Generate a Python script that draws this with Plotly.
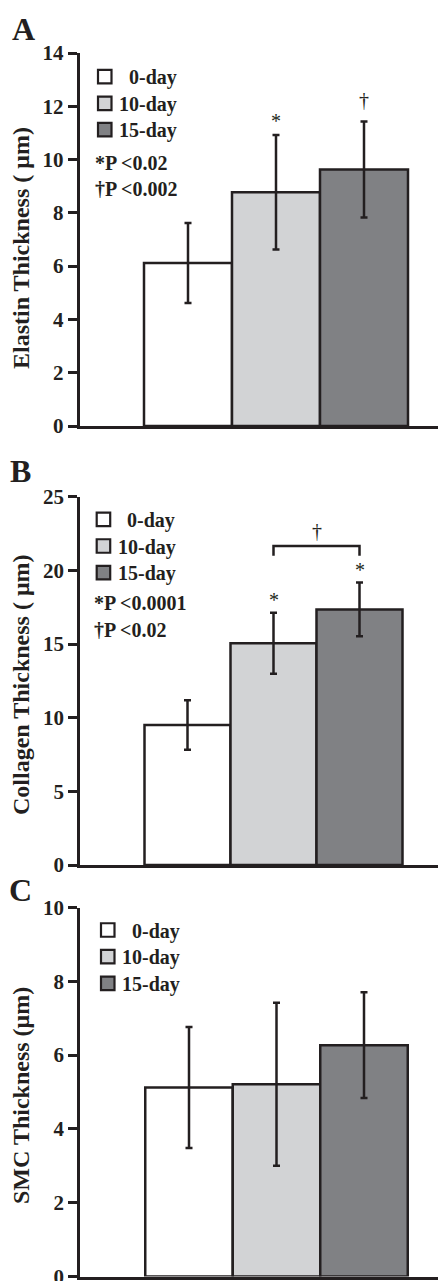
import plotly.graph_objects as go

W, H = 438, 1281

categories = ["0-day", "10-day", "15-day"]
colors = ["#ffffff", "#d2d3d5", "#808184"]

elastin_mean = [6.12, 8.77, 9.63]
elastin_err = [1.50, 2.15, 1.80]

collagen_mean = [9.50, 15.05, 17.35]
collagen_err = [1.68, 2.07, 1.82]

smc_mean = [5.12, 5.21, 6.27]
smc_err = [1.64, 2.21, 1.43]

panel_letters = ["A", "B", "C"]
y_titles = ["Elastin Thickness ( μm)", "Collagen Thickness ( μm)", "SMC Thickness (μm)"]
y_ranges = [[0, 14], [0, 25], [0, 10]]
y_dticks = [2, 5, 2]
p_texts = [["*P <0.02", "†P <0.002"], ["*P <0.0001", "†P <0.02"], []]

FONT = "Liberation Serif, Times New Roman, serif"
INK = "#231f20"


def fx(px):
    return px / W


def fy(py):
    return 1 - py / H


# pixel layout of the three panels
panels = [
    dict(left=79.5, top=53, bottom=426, c0=188, bw=88,
         letter=(23, 29), ytitle=(21, 248), leg_x=98, leg_y=[76.7, 103.3, 129.7],
         p_x=93, p_y=[161.7, 188.3]),
    dict(left=80, top=496.7, bottom=865, c0=187.5, bw=86,
         letter=(20, 471), ytitle=(21, 685), leg_x=96.7, leg_y=[519.3, 546, 572.7],
         p_x=92, p_y=[602.3, 629]),
    dict(left=80, top=907.5, bottom=1276.5, c0=189, bw=87.5,
         letter=(20, 890), ytitle=(21, 1096), leg_x=101, leg_y=[930, 956.7, 983.3],
         p_x=92, p_y=[]),
]

means = [elastin_mean, collagen_mean, smc_mean]
errs = [elastin_err, collagen_err, smc_err]

fig = go.Figure()
layout = dict(
    width=W, height=H, margin=dict(l=0, r=0, t=0, b=0, autoexpand=False),
    paper_bgcolor="white", plot_bgcolor="white",
    showlegend=False, barmode="overlay",
    font=dict(family=FONT, color=INK),
)
annotations = []
shapes = []

for i, p in enumerate(panels):
    sfx = "" if i == 0 else str(i + 1)
    xa, ya = "x" + sfx, "y" + sfx
    for j, cat in enumerate(categories):
        fig.add_trace(go.Bar(
            x=[cat], y=[means[i][j]], width=1, name=cat,
            marker=dict(color=colors[j], line=dict(color=INK, width=2.5)),
            error_y=dict(type="data", array=[errs[i][j]], color=INK,
                         thickness=2.5, width=3.5),
            xaxis=xa, yaxis=ya, hoverinfo="skip",
        ))
    xr = [(p["left"] - p["c0"]) / p["bw"], (W - p["c0"]) / p["bw"]]
    layout["xaxis" + sfx] = dict(
        domain=[fx(p["left"]), 1], range=xr, type="category",
        categoryorder="array", categoryarray=categories, automargin=False,
        showline=True, linecolor=INK, linewidth=2.5, showticklabels=False,
        ticks="", showgrid=False, zeroline=False, anchor=ya, fixedrange=True,
    )
    layout["yaxis" + sfx] = dict(
        domain=[fy(p["bottom"]), fy(p["top"])], range=y_ranges[i], dtick=y_dticks[i],
        showline=True, linecolor=INK, linewidth=2.5, ticks="outside", ticklen=9,
        tickwidth=2.5, tickcolor=INK, showgrid=False, zeroline=False, automargin=False,
        ticklabeloverflow="allow",
        tickfont=dict(family=FONT, size=21, color=INK, weight="bold"),
        anchor=xa, fixedrange=True,
    )
    # panel letter
    annotations.append(dict(
        xref="paper", yref="paper", x=fx(p["letter"][0]), y=fy(p["letter"][1]),
        text=panel_letters[i], showarrow=False, xanchor="center", yanchor="middle",
        font=dict(family=FONT, size=32, color=INK, weight="bold"),
    ))
    # y title
    annotations.append(dict(
        xref="paper", yref="paper", x=fx(p["ytitle"][0]), y=fy(p["ytitle"][1]),
        text=y_titles[i], showarrow=False, textangle=-90,
        xanchor="center", yanchor="middle",
        font=dict(family=FONT, size=24, color=INK, weight="bold"),
    ))
    # legend swatches + labels
    for j, cat in enumerate(categories):
        cy = p["leg_y"][j]
        shapes.append(dict(
            type="rect", xref="paper", yref="paper",
            x0=fx(p["leg_x"]), x1=fx(p["leg_x"] + 13.5),
            y0=fy(cy + 6.75), y1=fy(cy - 6.75),
            fillcolor=colors[j], line=dict(color=INK, width=2.2),
        ))
        tx = p["leg_x"] + (28.5 if j == 0 else 19)
        annotations.append(dict(
            xref="paper", yref="paper", x=fx(tx), y=fy(cy + 1),
            text=cat, showarrow=False, xanchor="left", yanchor="middle",
            font=dict(family=FONT, size=20, color=INK, weight="bold"),
        ))
    for k, t in enumerate(p_texts[i]):
        annotations.append(dict(
            xref="paper", yref="paper", x=fx(p["p_x"]), y=fy(p["p_y"][k] + 1),
            text=t, showarrow=False, xanchor="left", yanchor="middle",
            font=dict(family=FONT, size=20, color=INK, weight="bold"),
        ))

# significance marks
sig_font = dict(family=FONT, size=20, color=INK)
annotations += [
    dict(xref="x", yref="y", x=1, y=11.45, text="*", showarrow=False, font=sig_font,
         yanchor="middle"),
    dict(xref="x", yref="y", x=2, y=12.25, text="†", showarrow=False, font=sig_font,
         yanchor="middle"),
    dict(xref="x2", yref="y2", x=1, y=18.0, text="*", showarrow=False, font=sig_font,
         yanchor="middle"),
    dict(xref="x2", yref="y2", x=2, y=20.0, text="*", showarrow=False, font=sig_font,
         yanchor="middle"),
    dict(xref="x2", yref="y2", x=1.5, y=22.7, text="†", showarrow=False, font=sig_font,
         yanchor="middle"),
]
shapes.append(dict(
    type="path", xref="x2", yref="y2",
    path="M 1,21.0 L 1,21.66 L 2,21.66 L 2,21.0",
    line=dict(color=INK, width=2.5),
))

layout["annotations"] = annotations
layout["shapes"] = shapes
fig.update_layout(**layout)
fig.write_html(
    "out.html",
    config={"displayModeBar": False},
    post_script="document.body.style.margin='0';document.body.style.overflow='hidden';",
)
